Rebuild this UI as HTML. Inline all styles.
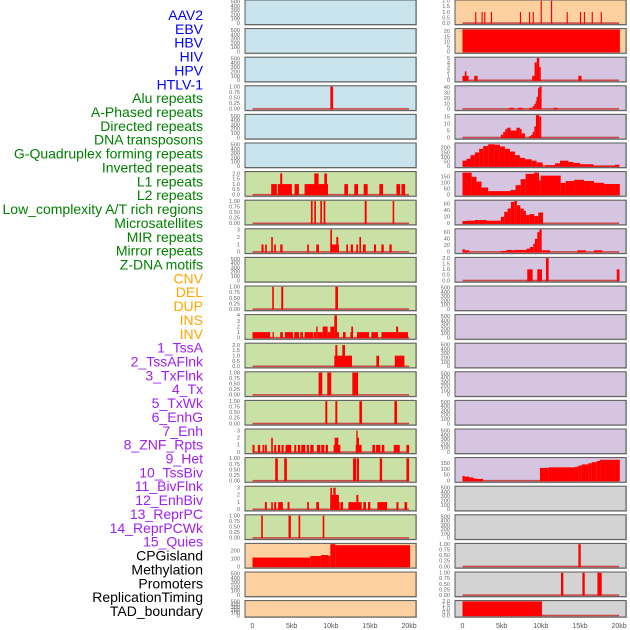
<!DOCTYPE html>
<html><head><meta charset="utf-8"><style>
html,body{margin:0;padding:0;background:#fff;}
svg{display:block;font-family:"Liberation Sans",sans-serif;}
</style></head><body>
<svg id="chart" width="630" height="630" viewBox="0 0 630 630" xmlns="http://www.w3.org/2000/svg">
<g id="labels"></g>
<g id="panels"></g>
<g id="xaxes"></g>
</svg>
<script>
// ---- track labels ----
const labelNames = ["AAV2","EBV","HBV","HIV","HPV","HTLV-1","Alu repeats","A-Phased repeats","Directed repeats","DNA transposons","G-Quadruplex forming repeats","Inverted repeats","L1 repeats","L2 repeats","Low_complexity A/T rich regions","Microsatellites","MIR repeats","Mirror repeats","Z-DNA motifs","CNV","DEL","DUP","INS","INV","1_TssA","2_TssAFlnk","3_TxFlnk","4_Tx","5_TxWk","6_EnhG","7_Enh","8_ZNF_Rpts","9_Het","10_TssBiv","11_BivFlnk","12_EnhBiv","13_ReprPC","14_ReprPCWk","15_Quies","CPGisland","Methylation","Promoters","ReplicationTiming","TAD_boundary"];
const labelColors = ["#0000ff","#0000ff","#0000ff","#0000ff","#0000ff","#0000ff","#008000","#008000","#008000","#008000","#008000","#008000","#008000","#008000","#008000","#008000","#008000","#008000","#008000","#ffa500","#ffa500","#ffa500","#ffa500","#ffa500","#a020f0","#a020f0","#a020f0","#a020f0","#a020f0","#a020f0","#a020f0","#a020f0","#a020f0","#a020f0","#a020f0","#a020f0","#a020f0","#a020f0","#a020f0","#000","#000","#000","#000","#000"];

// ---- tick label sets ----
const ticks500 = ["0","100","200","300","400","500"];
const ticks1 = ["0.00","0.25","0.50","0.75","1.00"];
const ticks2 = ["0.0","0.5","1.0","1.5","2.0"];
const ticks3 = ["0","1","2","3"];
const ticks4 = ["0","1","2","3","4"];
const ticks5 = ["0","1","2","3","4","5"];
const ticks40 = ["0","10","20","30","40"];
const ticks15 = ["0","5","10","15"];
const ticks20 = ["0","5","10","15","20"];
const ticks200 = ["0","50","100","150","200"];
const ticks150 = ["0","50","100","150"];
const ticks60 = ["0","20","40","60"];
const ticksCpg = ["0","100","200"];

// ---- left column segments [startKb, endKb, value] ----
const segL3 = [[9.94,10.3,1]];
const segL6 = [[2.39,3.11,1],[3.24,5.03,1],[3.54,3.8,2],[5.37,5.93,1],[6.65,9.64,1],[7.89,8.44,2],[9.17,9.51,2],[11.73,12.2,1],[13.0,13.48,1],[14.2,14.71,1],[16.2,16.67,1],[18.38,18.85,1],[19.02,19.49,1]];
const segL7 = [[7.46,7.68,1],[7.89,8.1,1],[8.66,8.87,1],[9.08,9.3,1],[14.33,14.58,1],[17.9,18.1,1]];
const segL8 = [[1.15,1.41,1],[1.62,1.83,1],[2.39,2.6,2],[2.77,2.99,1],[3.54,3.84,1],[6.99,7.21,1],[8.14,8.49,1],[9.94,11.04,1],[9.94,10.15,3],[10.7,10.96,2],[11.98,12.2,1],[12.54,12.84,1],[13.26,13.48,1],[13.65,13.86,2],[14.11,14.46,1],[15.52,15.78,1],[16.46,16.76,1],[17.48,17.78,1]];
const segL10 = [[2.52,2.73,1],[3.67,3.92,1],[10.58,10.92,1]];
const segL11 = [[0,2.26,1],[2.56,2.73,1],[3.54,3.88,1],[4.14,5.16,1],[5.33,5.93,1],[6.1,6.44,1],[6.65,7.72,1],[7.8,8.14,1],[8.14,8.32,2],[8.32,8.96,1],[8.96,9.6,2],[9.6,9.94,1],[9.94,10.45,2],[10.45,10.79,4],[10.79,11.04,1],[11.56,11.9,1],[12.5,12.84,1],[12.62,12.84,2],[13.35,14.88,1],[15.18,16.03,1],[16.46,17.82,1],[17.82,18.34,1],[18.34,18.6,2],[18.6,19.86,1]];
const segL12 = [[10.45,12.71,1],[10.58,10.83,2],[11.47,11.81,2],[15.82,16.16,1],[18.17,19.4,1]];
const segL13 = [[8.44,8.91,1],[9.55,10.06,1],[12.75,13.48,1]];
const segL14 = [[9.3,9.55,1],[10.58,10.83,1],[13.65,13.99,1],[18.12,18.46,1]];
const segL15 = [[0,0.26,1],[0.68,0.98,1],[1.28,1.49,1],[1.58,1.83,1],[2.39,2.6,2],[2.77,3.03,1],[3.24,3.54,1],[3.71,3.97,1],[4.22,4.95,1],[5.33,5.59,1],[5.8,6.1,1],[6.23,6.74,1],[6.95,7.21,1],[7.38,7.8,1],[8.23,8.66,1],[8.78,9.17,1],[9.34,9.64,1],[10.36,11.22,1],[10.49,10.96,2],[13.18,13.94,1],[13.35,13.6,2],[13.26,13.43,3],[15.31,15.65,1],[15.78,16.33,1],[16.5,16.84,1],[18.04,18.81,1],[19.66,20,1]];
const segL16 = [[2.9,3.24,1],[4.05,4.39,1],[12.84,13.26,1],[13.35,13.6,1],[16.25,16.55,1],[19.66,20,1]];
const segL17 = [[1.58,1.83,1],[2.39,2.6,1],[2.77,3.03,1],[3.28,3.88,1],[4.48,4.73,1],[6.99,7.21,1],[8.14,8.49,1],[9.94,11.13,1],[9.94,11.04,2],[9.94,10.15,3],[10.32,10.62,3],[11.22,11.56,1],[12.24,13.94,1],[13.26,13.52,2],[14.16,14.5,1],[14.75,15.05,1],[15.95,17.19,1],[18.38,18.64,1],[19.41,19.75,1]];
const segL18 = [[1.11,1.32,1],[4.6,4.9,1],[5.88,6.1,1],[8.96,9.17,1]];
const segL19 = [[0,7.38,112],[7.38,8.74,132],[8.74,9.72,144],[9.72,9.94,132],[9.94,10.58,280],[10.58,20.13,268]];

// ---- right column segments ----
const segR0 = [[1.62,1.77,1],[2.43,2.58,1],[2.77,2.92,1],[3.62,3.77,1],[7.33,7.48,1],[8.49,8.64,1],[8.96,9.11,1],[9.98,10.13,2],[11.3,11.45,2],[13.3,13.45,1],[15.0,15.15,1],[15.5,15.65,1],[16.5,16.65,1],[17.65,17.8,1]];
const segR1 = [[0,20.1,22]];
const segR2 = [[0,0.5,1],[0.3,0.5,2],[0.5,0.77,1],[1.5,1.92,1],[8.9,9.2,1],[9.2,9.5,4],[9.5,9.8,5],[9.8,10.0,3],[14.8,15.2,1]];
const segR3 = [[5.97,6.57,2],[7.12,7.68,2],[8.53,8.96,2],[8.96,9.17,5],[9.17,9.34,9],[9.34,9.47,15],[9.47,9.64,22],[9.64,9.81,38],[9.81,10.1,41],[11.6,12.15,2]];
const segR4 = [[4.9,5.2,2],[5.2,5.46,4],[5.46,5.71,6],[5.71,6.14,7],[6.14,6.9,5],[6.9,7.33,7],[7.33,7.55,6],[7.55,7.97,3],[8.53,8.74,1],[8.74,8.96,2],[8.96,9.17,4],[9.17,9.38,8],[9.38,9.81,16],[9.81,10.06,15]];
const segR5 = [[0,0.51,60],[0.51,1.02,80],[1.02,1.58,120],[1.58,2.13,150],[2.13,2.64,190],[2.64,3.28,220],[3.28,4.14,240],[4.14,4.78,235],[4.78,5.42,215],[5.42,6.06,190],[6.06,6.7,160],[6.7,7.33,120],[7.33,7.97,90],[7.97,8.83,75],[8.83,9.47,60],[9.47,10.23,40],[10.53,11.81,10],[11.81,12.45,30],[12.45,13.52,60],[13.52,14.16,45],[14.16,15.01,35],[15.01,16.72,20],[16.72,19.49,3],[19.49,20.05,15]];
const segR6 = [[0,1.17,185],[1.17,1.79,150],[1.79,2.43,110],[2.43,3.28,60],[3.28,6.14,30],[6.14,6.78,40],[6.78,7.42,80],[7.42,8.06,130],[8.06,9.13,175],[9.13,9.77,185],[9.77,9.98,120],[9.98,12.54,160],[12.54,13.18,100],[13.18,14.25,115],[14.25,15.52,125],[15.52,16.8,115],[16.8,18.08,100],[18.08,20.09,90]];
const segR7 = [[0,0.51,7],[0.51,1.58,8],[1.58,3.07,10],[3.07,4.9,8],[4.9,5.33,20],[5.33,5.76,35],[5.76,6.18,45],[6.18,6.61,65],[6.61,6.95,68],[6.95,7.38,55],[7.38,7.8,45],[7.8,8.1,38],[8.1,8.53,25],[8.53,9.17,28],[9.17,9.68,22],[9.68,10.28,33]];
const segR8 = [[0,0.3,8],[0.3,0.85,5],[4.9,5.63,3],[5.63,6.27,6],[6.27,6.7,5],[6.7,8.19,6],[8.19,8.61,10],[8.61,9.04,15],[9.04,9.25,25],[9.25,9.55,40],[9.55,9.81,60],[9.81,10.11,68],[10.11,11.17,5],[14.67,15.74,5],[16.8,17.87,5]];
const segR9 = [[8.27,8.96,1],[9.55,10.15,1],[10.66,11.0,2],[19.7,20.05,1]];
const segR16 = [[0,0.3,40],[0.3,0.85,35],[0.85,1.36,28],[1.36,1.79,20],[1.79,2.64,15],[9.89,10.96,110],[10.96,12.45,115],[12.45,14.37,115],[14.37,14.8,120],[14.8,15.22,130],[15.22,16.08,140],[16.08,16.5,150],[16.5,17.14,160],[17.14,17.57,170],[17.57,20.09,180]];
const segR19 = [[14.8,15.1,1]];
const segR20 = [[12.58,12.88,1],[15.31,15.61,1],[17.23,17.78,1]];
const segR21 = [[0,10.15,2]];

const BLUE="#c9e4ec", GREEN="#c9e1a5", ORANGE="#fdd19f", PURPLE="#d6c5e1", GRAY="#d3d3d3";
const leftPanels = [
 [BLUE,520,ticks500,null],[BLUE,520,ticks500,null],[BLUE,520,ticks500,null],[BLUE,1,ticks1,segL3],
 [BLUE,520,ticks500,null],[BLUE,520,ticks500,null],[GREEN,2.1,ticks2,segL6],[GREEN,1,ticks1,segL7],
 [GREEN,3,ticks3,segL8],[GREEN,520,ticks500,null],[GREEN,1,ticks1,segL10],[GREEN,4,ticks4,segL11],
 [GREEN,2.1,ticks2,segL12],[GREEN,1,ticks1,segL13],[GREEN,1,ticks1,segL14],[GREEN,3.1,ticks3,segL15],
 [GREEN,1,ticks1,segL16],[GREEN,3.1,ticks3,segL17],[GREEN,1,ticks1,segL18],[ORANGE,280,ticksCpg,segL19],
 [ORANGE,520,ticks500,null],[ORANGE,520,ticks500,null]
];
const rightPanels = [
 [ORANGE,2,ticks2,segR0],[ORANGE,22,ticks20,segR1],[PURPLE,5,ticks5,segR2],[PURPLE,41,ticks40,segR3],
 [PURPLE,16,ticks15,segR4],[PURPLE,245,ticks200,segR5],[PURPLE,187,ticks150,segR6],[PURPLE,68,ticks60,segR7],
 [PURPLE,68,ticks60,segR8],[PURPLE,2,ticks2,segR9],[PURPLE,520,ticks500,null],[PURPLE,520,ticks500,null],
 [PURPLE,520,ticks500,null],[PURPLE,520,ticks500,null],[PURPLE,520,ticks500,null],[PURPLE,520,ticks500,null],
 [PURPLE,192,ticks150,segR16],[GRAY,520,ticks500,null],[GRAY,520,ticks500,null],[GRAY,1,ticks1,segR19],
 [GRAY,1,ticks1,segR20],[GRAY,2,ticks2,segR21]
];
const xTickKb = [0,5,10,15,20];
const xTickLabels = ["0","5kb","10kb","15kb","20kb"];

const NS="http://www.w3.org/2000/svg";
function mk(tag, attrs, parent){const e=document.createElementNS(NS,tag);for(const k in attrs)e.setAttribute(k,attrs[k]);parent.appendChild(e);return e;}

const gl=document.getElementById('labels');
labelNames.forEach((n,i)=>{
  const t=mk('text',{x:203,y:(20+13.86*i).toFixed(1),'text-anchor':'end','font-size':14,fill:labelColors[i]},gl);
  
  
  t.textContent=n;
});

const gp=document.getElementById('panels');
const colX=[245,455];
function xScale(col,kb){return colX[col]+7.5+kb*7.83;}
function drawCol(col,panels){
  panels.forEach((p,row)=>{
    const [bg,ymax,tks,segs]=p;
    const top=row*28.6, h=(row===21?16.4:24.6), x0=colX[col], w=171;
    const g=mk('g',{},gp);
    
    
    mk('rect',{x:x0-0.5,y:top-0.5,width:w+1.5,height:h+1.5,fill:'#bbb'},g);
    const r=mk('rect',{x:x0,y:top,width:w,height:h,fill:bg,stroke:'#5a5a5a','stroke-width':1},g);
    
    
    const y0=top+h-1.5, y1=top+0.8;
    const ys=v=>y0-(v/ymax)*(y0-y1);
    // y ticks
    tks.forEach(s=>{
      const v=parseFloat(s);
      const t=mk('text',{x:colX[col]-5,y:(ys(v)+1.8).toFixed(2),'text-anchor':'end','font-size':5.6,fill:'#666'},g);
      
      
      t.textContent=s;
    });
    if(segs){
      const base=mk('rect',{x:xScale(col,0),y:y0-0.8,width:xScale(col,20)-xScale(col,0),height:1.6,fill:'#c84a4a'},g);
      
      
      segs.forEach(s=>{
        const xa=xScale(col,s[0]), xb=xScale(col,s[1]);
        const b=mk('rect',{x:xa.toFixed(2),y:ys(s[2]).toFixed(2),width:Math.max(0.9,xb-xa).toFixed(2),height:(y0-ys(s[2])+0.6).toFixed(2),fill:'#ff0000'},g);
        
        
      });
    }
  });
}
drawCol(0,leftPanels);
drawCol(1,rightPanels);

const gx=document.getElementById('xaxes');
[0,1].forEach(col=>{
  xTickKb.forEach((kb,i)=>{
    const t=mk('text',{x:xScale(col,kb).toFixed(1),y:628,'text-anchor':'middle','font-size':7,fill:'#555'},gx);
    
    
    t.textContent=xTickLabels[i];
  });
});
</script>
</body></html>
